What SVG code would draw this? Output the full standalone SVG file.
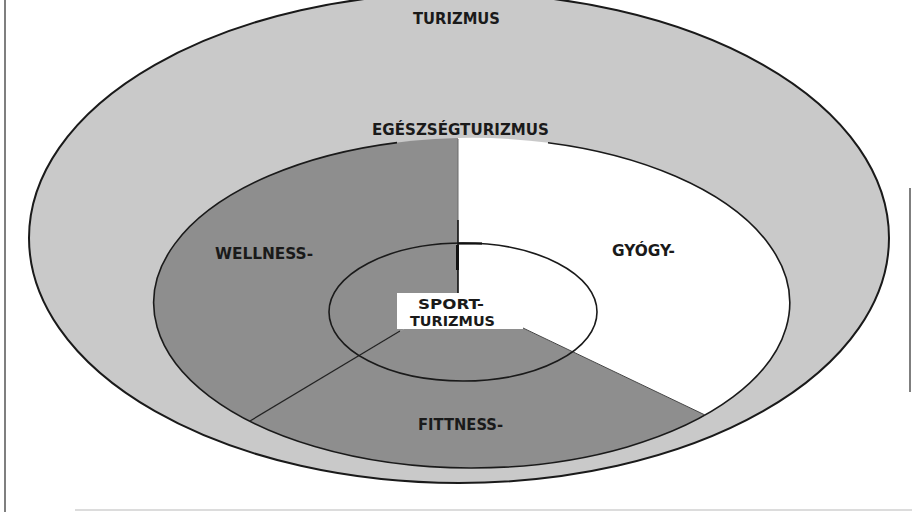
<svg xmlns="http://www.w3.org/2000/svg" width="912" height="512" viewBox="0 0 912 512">
  <style>
    .lbl { font-family: "DejaVu Sans Condensed", "DejaVu Sans", "Liberation Sans", sans-serif; font-weight: bold; fill: #1a1a1a; }
    .light { fill: #c9c9c9; }
    .dark { fill: #8e8e8e; }
    .white { fill: #ffffff; }
    .edge { fill: none; stroke: #1a1a1a; }
  </style>
  <rect width="912" height="512" fill="#ffffff"/>
  <g id="frame">
    <line x1="5" y1="0" x2="5" y2="512" stroke="#555" stroke-width="1.5"/>
    <line x1="910" y1="188" x2="910" y2="392" stroke="#555" stroke-width="1.5"/>
    <line x1="75" y1="510" x2="912" y2="510" stroke="#d0d0d0" stroke-width="1.5"/>
  </g>
  <g id="turizmus">
    <ellipse cx="459" cy="238" rx="430" ry="245" class="light edge" style="fill:#c9c9c9" stroke-width="2"/>
    <text class="lbl" x="413" y="24" font-size="15.5" textLength="87" lengthAdjust="spacingAndGlyphs">TURIZMUS</text>
  </g>
  <g id="wellness">
    <path class="dark" d="M458,297 L458,138 A318,165 0 0,0 250,421 Z"/>
    <text class="lbl" x="215" y="259" font-size="16" textLength="98" lengthAdjust="spacingAndGlyphs">WELLNESS-</text>
  </g>
  <g id="fitness">
    <path class="dark" d="M458,297 L250,421 A318,165 0 0,0 705,415 Z"/>
    <text class="lbl" x="418" y="430" font-size="16" textLength="85" lengthAdjust="spacingAndGlyphs">FITTNESS-</text>
  </g>
  <g id="gyogy">
    <path class="white" d="M458,297 L705,415 A318,165 0 0,0 458,138 Z"/>
    <text class="lbl" x="612" y="256" font-size="16" textLength="63" lengthAdjust="spacingAndGlyphs">GYÓGY-</text>
  </g>
  <g id="egeszsegturizmus">
    <path class="edge" stroke-width="1.6" d="M548,142.8 A318,165 0 1,1 397,142.6"/>
    <text class="lbl" x="372" y="135" font-size="15" textLength="177" lengthAdjust="spacingAndGlyphs">EGÉSZSÉGTURIZMUS</text>
  </g>
  <g id="connectors">
    <line x1="458" y1="139" x2="458" y2="220" stroke="#6a6a6a" stroke-width="1"/>
    <line x1="458" y1="220" x2="458" y2="297" stroke="#111" stroke-width="1.6"/>
    <line x1="457.5" y1="245" x2="457.5" y2="270" stroke="#111" stroke-width="3"/>
    <line x1="400" y1="331" x2="250" y2="421" stroke="#222" stroke-width="1.3"/>
    <line x1="523" y1="328" x2="705" y2="415" stroke="#444" stroke-width="1"/>
  </g>
  <g id="sportturizmus">
    <ellipse cx="463" cy="312" rx="134" ry="69" class="edge" stroke-width="1.6"/>
    <line x1="458" y1="243.5" x2="482" y2="243.5" stroke="#111" stroke-width="2.2"/>
    <rect x="397" y="293" width="126" height="36" fill="#ffffff"/>
    <text class="lbl" x="418" y="308.5" font-size="13.5" textLength="66" lengthAdjust="spacingAndGlyphs">SPORT-</text>
    <text class="lbl" x="410" y="325.5" font-size="13.5" textLength="85" lengthAdjust="spacingAndGlyphs">TURIZMUS</text>
  </g>
</svg>
